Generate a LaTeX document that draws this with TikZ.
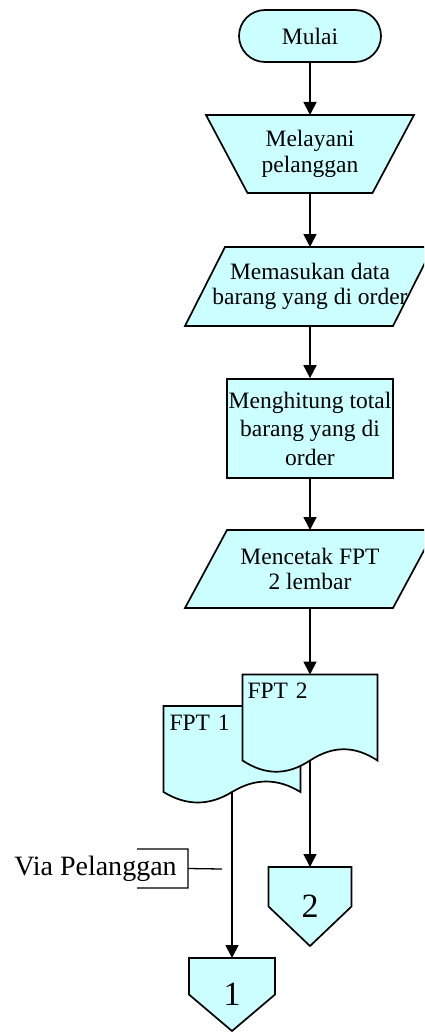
\documentclass[tikz,border=0pt]{standalone}
\usepackage{fontspec}
\setmainfont{Liberation Serif}
\usetikzlibrary{arrows.meta}
\definecolor{boxfill}{HTML}{CCFFFF}
\tikzset{%
chart/.style={x=1pt,y=-1pt,line width=1.7pt,>={Triangle[length=13pt,width=13pt]}},
flowbox/.style={draw,fill=boxfill,align=center,inner sep=2pt,font=\fontsize{23.5}{25.5}\selectfont},
termbox/.style={flowbox,rounded corners=26pt,minimum width=142pt,minimum height=52pt},
procbox/.style={flowbox,minimum width=165pt,minimum height=99pt,font=\fontsize{23.5}{28.5}\selectfont},
shapetext/.style={align=center,inner sep=0pt,outer sep=0pt,font=\fontsize{23.5}{25.5}\selectfont},
docbox/.style={align=left,text width=125pt,inner xsep=6pt,inner ysep=0pt,outer sep=0pt,
               text height=24pt,text depth=62pt,font=\fontsize{23.5}{25.5}\selectfont},
offbox/.style={inner sep=0pt,outer sep=0pt,font=\fontsize{34}{36}\selectfont},
notebox/.style={inner sep=0pt,outer sep=0pt,minimum width=51pt,minimum height=39pt},
notetext/.style={inner sep=0pt,font=\fontsize{28}{30}\selectfont}
}
\newcommand{\manualshape}[4]{%
  \filldraw[fill=boxfill,shift={(#1)}] (-#2,-#4) -- (#2,-#4) -- (#3,#4) -- (-#3,#4) -- cycle;}
\newcommand{\ioshape}[4]{%
  \filldraw[fill=boxfill,shift={(#1)}] (-#2,-#4) -- ({#2+#3},-#4) -- (#2,#4) -- ({-#2-#3},#4) -- cycle;}
\newcommand{\docshape}[3]{%
  \filldraw[fill=boxfill,shift={(#1)}] (-#2,-43) -- (#2,-43) -- (#2,43)
    .. controls +(-23,-#3) and +(23,-#3) .. (0,43)
    .. controls +(-23,#3) and +(23,#3) .. (-#2,43) -- cycle;}
\newcommand{\offshape}[3]{%
  \filldraw[fill=boxfill,shift={(#1)}] (-#2,-#3) -- (#2,-#3) -- (#2,0) -- (0,#3) -- (-#2,0) -- cycle;}
\begin{document}
\begin{tikzpicture}[chart]
\useasboundingbox (0,0) rectangle (424,1032);
\clip (0,0) rectangle (424,1032);
\node[termbox] (mulai) at (310,36) {Mulai};
\manualshape{310,154}{104}{62.5}{39}
\node[shapetext,minimum width=208pt,minimum height=78pt] (layani) at (310,154) {Melayani\\pelanggan};
\ioshape{309,286.5}{84}{40}{39.5}
\node[shapetext,minimum width=168pt,minimum height=79pt] (masuk) at (310,286.5) {Memasukan data\\barang yang di order};
\node[procbox] (hitung) at (310,428.5) {Menghitung total\\barang yang di\\order};
\ioshape{310,569}{83}{42}{39}
\node[shapetext,minimum width=166pt,minimum height=78pt] (cetak) at (310,569) {Mencetak FPT\\2 lembar};

\docshape{232,749}{68.5}{14}
\node[docbox,minimum width=137pt] (fpt1) at (232,749)   {FPT 1};
\docshape{310,717.5}{67.5}{15}
\node[docbox,minimum width=135pt] (fpt2) at (310,717.5) {FPT 2};

\offshape{310,906.5}{41.5}{39.5}
\node[offbox,minimum width=83pt,minimum height=79pt] (off2) at (310,906.5) {2};
\offshape{232,994.5}{43}{36.5}
\node[offbox,minimum width=86pt,minimum height=73pt] (off1) at (232,994.5) {1};

\foreach \a/\b in {mulai/layani,layani/masuk,masuk/hitung,hitung/cetak,
                   cetak/fpt2,fpt1/off1,fpt2/off2}
  \draw[->] (\a) -- (\b);

\node[notetext] (via)    at (95.5,869)   {Via Pelanggan};
\node[notebox]  (viabox) at (162.5,868.5) {};
\coordinate (viatip) at (222,869);
\draw[line width=1.3pt] (viabox.north west) -- (viabox.north east) -- (viabox.south east) -- (viabox.south west)
                        (viabox.east) -- (viatip);
\end{tikzpicture}
\end{document}
